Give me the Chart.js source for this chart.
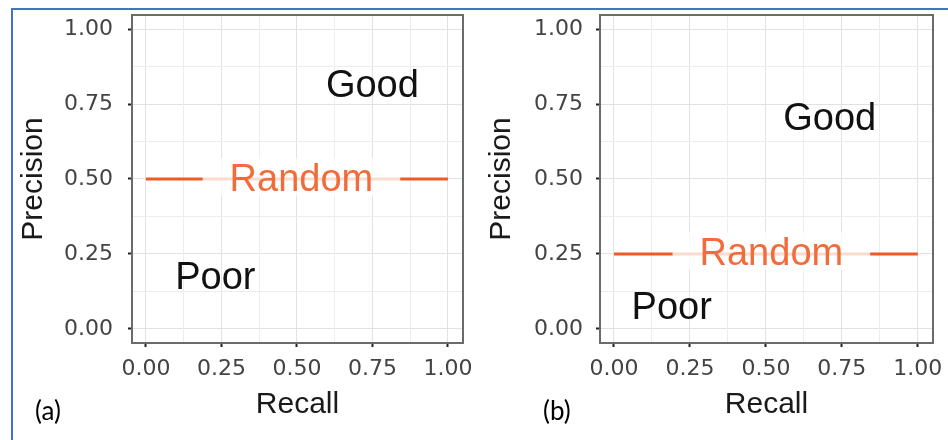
<!DOCTYPE html>
<html>
<head>
<meta charset="utf-8">
<script src="https://cdn.jsdelivr.net/npm/chart.js@4.4.1/dist/chart.umd.min.js"></script>
<style>
  body { margin: 0; width: 948px; height: 440px; background: #fff; position: relative; overflow: hidden; }
  .frame { position: absolute; left: 11px; top: 8px; width: 960px; height: 460px;
           border-left: 2px solid #4472c4; border-top: 2px solid #4472c4; }
  .panel { position: absolute; top: 0; }
  .tag { position: absolute; top: 394px; font: 26px Lato, "Liberation Sans", sans-serif; color: #000; }
</style>
</head>
<body>
<div class="frame"></div>
<canvas class="panel" id="chartA" width="474" height="440" style="left:0"></canvas>
<canvas class="panel" id="chartB" width="474" height="440" style="left:474px"></canvas>
<div class="tag" style="left:35px">(a)</div>
<div class="tag" style="left:543px">(b)</div>

<script>
// data
const recall = [0, 1];
const randomA = [0.5, 0.5];
const randomB = [0.25, 0.25];
const majorTicks = [0, 0.25, 0.5, 0.75, 1];
const minorTicks = [0.125, 0.375, 0.625, 0.875];
const regionNames = ["Good", "Poor", "Random"];
// where the region names sit, in data units
const namesXA = [0.75, 0.23, 0.515];
const namesYA = [0.82, 0.18, 0.507];
const namesXB = [0.71, 0.19, 0.518];
const namesYB = [0.71, 0.077, 0.26];

const ORANGE = "#f05a24";
const FONT = "Liberation Sans";
const TICK_FONT = "DejaVu Sans";

// box round the plot area
const plotBox = {
  id: "plotBox",
  beforeDatasetsDraw(chart) {
    const { ctx, chartArea: a } = chart;
    ctx.save();
    ctx.strokeStyle = "#6b6b6b";
    ctx.lineWidth = 2;
    ctx.strokeRect(a.left, a.top, a.right - a.left, a.bottom - a.top);
    ctx.restore();
  }
};

// Good / Poor / Random text
const regionText = {
  id: "regionText",
  afterDatasetsDraw(chart, args, opts) {
    const { ctx, scales } = chart;
    ctx.save();
    ctx.font = "38px '" + FONT + "'";
    ctx.textAlign = "center";
    ctx.textBaseline = "alphabetic";
    const cap = 38 * 0.716;
    regionNames.forEach((name, i) => {
      const px = scales.x.getPixelForValue(opts.xs[i]);
      const py = scales.y.getPixelForValue(opts.ys[i]);
      const isRandom = name === "Random";
      if (isRandom) {
        const w = ctx.measureText(name).width;
        ctx.fillStyle = "rgba(255,255,255,0.78)";
        ctx.fillRect(px - w / 2 - 27, py - cap / 2 - 5, w + 54, cap + 10);
      }
      ctx.fillStyle = isRandom ? "#f26b3a" : "#111";
      ctx.fillText(name, px, py + cap / 2);
    });
    ctx.restore();
  }
};

function fixTicks(vals) {
  return (scale) => { scale.ticks = vals.map(v => ({ value: v })); };
}

// force axis size and drop the extra room chart.js keeps for edge labels
function fitTo(w, h) {
  return (s) => {
    if (w !== null) s.width = w;
    if (h !== null) s.height = h;
    s.paddingTop = 0; s.paddingBottom = 0; s.paddingLeft = 0; s.paddingRight = 0;
  };
}

function makeChart(id, baseline, xs, ys, yWidth, rightPad, yTitlePad, yTickPad) {
  const ctx = document.getElementById(id).getContext("2d");
  return new Chart(ctx, {
    type: "scatter",
    data: {
      datasets: [{
        data: recall.map((r, i) => ({ x: r, y: baseline[i] })),
        showLine: true,
        borderColor: ORANGE,
        borderWidth: 3,
        pointRadius: 0
      }]
    },
    plugins: [plotBox, regionText],
    options: {
      responsive: false,
      animation: false,
      layout: { padding: { top: 15, right: rightPad, left: 0, bottom: 0 } },
      plugins: {
        legend: { display: false },
        tooltip: { enabled: false },
        regionText: { xs: xs, ys: ys }
      },
      scales: {
        x: {
          type: "linear", min: -0.046, max: 1.05,
          afterBuildTicks: fixTicks(majorTicks),
          afterFit: fitTo(null, 97),
          border: { display: false },
          grid: { color: "#e2e2e2", lineWidth: 1, tickColor: "#222", tickLength: 4, tickWidth: 2 },
          ticks: {
            color: "#444", padding: 9,
            font: { family: TICK_FONT, size: 22 },
            callback: (v) => v.toFixed(2)
          },
          title: {
            display: true, text: "Recall", color: "#1a1a1a",
            font: { family: FONT, size: 30 }, padding: { top: 0, bottom: 17 }
          }
        },
        y: {
          type: "linear", min: -0.047, max: 1.047,
          afterBuildTicks: fixTicks(majorTicks),
          afterFit: fitTo(yWidth, null),
          border: { display: false },
          grid: { color: "#e2e2e2", lineWidth: 1, tickColor: "#222", tickLength: 4, tickWidth: 2 },
          ticks: {
            color: "#444", padding: yTickPad,
            font: { family: TICK_FONT, size: 22 },
            callback: (v) => v.toFixed(2)
          },
          title: {
            display: true, text: "Precision", color: "#1a1a1a",
            font: { family: FONT, size: 30 }, padding: { top: yTitlePad, bottom: 0 }
          }
        },
        xMinor: {
          type: "linear", position: "bottom", min: -0.046, max: 1.05,
          afterBuildTicks: fixTicks(minorTicks),
          afterFit: fitTo(null, 0),
          border: { display: false },
          grid: { color: "#ededed", lineWidth: 1, drawTicks: false },
          ticks: { display: false }
        },
        yMinor: {
          type: "linear", position: "left", min: -0.047, max: 1.047,
          afterBuildTicks: fixTicks(minorTicks),
          afterFit: fitTo(0, null),
          border: { display: false },
          grid: { color: "#ededed", lineWidth: 1, drawTicks: false },
          ticks: { display: false }
        }
      }
    }
  });
}

makeChart("chartA", randomA, namesXA, namesYA, 132, 11, 16, 15);
makeChart("chartB", randomB, namesXB, namesYB, 126, 15, 10, 13);
</script>
</body>
</html>
